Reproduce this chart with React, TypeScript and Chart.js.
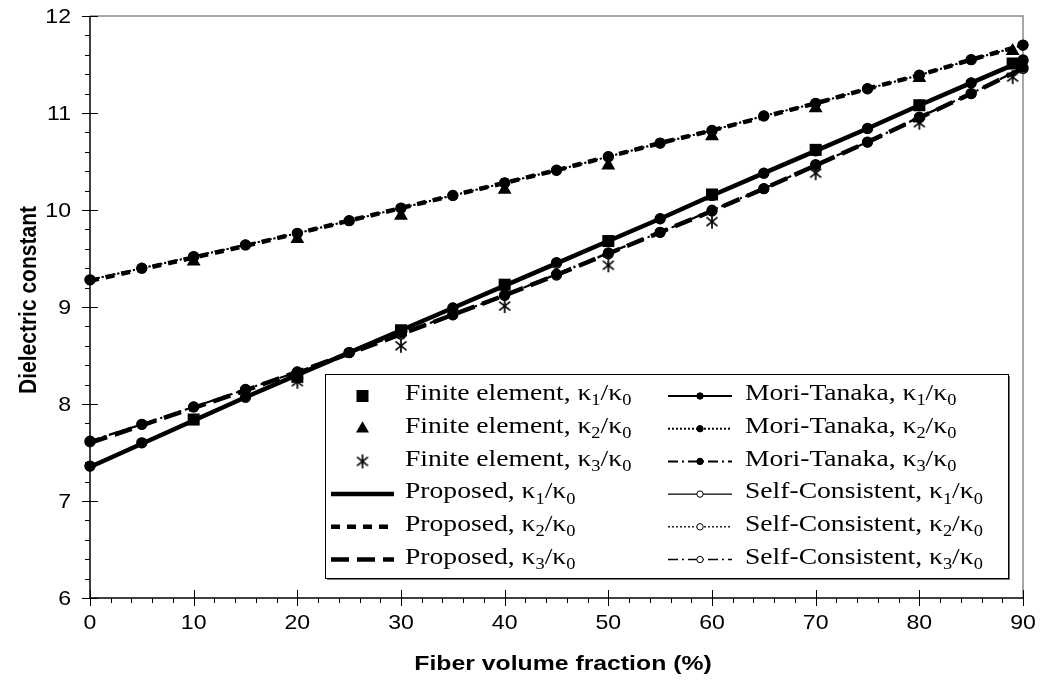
import React, { useEffect, useRef } from 'react';
import { Chart, registerables } from 'chart.js';
Chart.register(...registerables);

// ---------- data ----------
const fineX = [0, 5, 10, 15, 20, 25, 30, 35, 40, 45, 50, 55, 60, 65, 70, 75, 80, 85, 90];
const feX = [10, 20, 30, 40, 50, 60, 70, 80, 89];
const feK3X = [20, 30, 40, 50, 60, 70, 80, 89];

const feK1 = [7.84, 8.28, 8.76, 9.23, 9.68, 10.16, 10.62, 11.08, 11.51];
const feK2 = [9.47, 9.70, 9.94, 10.21, 10.46, 10.76, 11.05, 11.36, 11.64];
const feK3 = [8.23, 8.60, 9.01, 9.43, 9.88, 10.38, 10.90, 11.37];

const mtK1 = [7.36, 7.60, 7.84, 8.07, 8.30, 8.53, 8.76, 8.99, 9.22, 9.46, 9.68, 9.91, 10.15, 10.38, 10.61, 10.84, 11.08, 11.31, 11.55];
const mtK2 = [9.28, 9.40, 9.52, 9.64, 9.76, 9.89, 10.02, 10.15, 10.28, 10.41, 10.55, 10.69, 10.82, 10.97, 11.10, 11.25, 11.39, 11.55, 11.70];
const mtK3 = [7.62, 7.79, 7.97, 8.15, 8.33, 8.53, 8.73, 8.92, 9.12, 9.34, 9.56, 9.77, 10.00, 10.22, 10.47, 10.70, 10.96, 11.20, 11.47];

const scK1 = [7.36, 7.60, 7.84, 8.07, 8.30, 8.53, 8.76, 8.99, 9.22, 9.45, 9.68, 9.91, 10.15, 10.38, 10.61, 10.84, 11.08, 11.31, 11.54];
const scK2 = [9.28, 9.40, 9.52, 9.64, 9.76, 9.89, 10.02, 10.15, 10.28, 10.41, 10.55, 10.69, 10.82, 10.97, 11.10, 11.25, 11.39, 11.55, 11.70];
const scK3 = [7.61, 7.79, 7.97, 8.15, 8.33, 8.53, 8.72, 8.92, 9.12, 9.33, 9.55, 9.77, 9.99, 10.22, 10.46, 10.70, 10.95, 11.20, 11.46];

const prK1 = [7.35, 7.59, 7.83, 8.07, 8.30, 8.53, 8.76, 8.99, 9.22, 9.45, 9.68, 9.91, 10.15, 10.38, 10.61, 10.84, 11.08, 11.31, 11.54];
const prK2 = [9.27, 9.39, 9.51, 9.63, 9.76, 9.89, 10.02, 10.15, 10.28, 10.41, 10.55, 10.69, 10.82, 10.96, 11.10, 11.25, 11.39, 11.55, 11.70];
const prK3 = [7.60, 7.78, 7.96, 8.14, 8.33, 8.52, 8.72, 8.92, 9.12, 9.33, 9.55, 9.77, 9.99, 10.22, 10.46, 10.70, 10.95, 11.20, 11.46];

const xTickLabels = ['0', '10', '20', '30', '40', '50', '60', '70', '80', '90'];
const yTickLabels = ['6', '7', '8', '9', '10', '11', '12'];
const xTitle = 'Fiber volume fraction (%)';
const yTitle = 'Dielectric constant';

const legendCol1 = ['Finite element, κ_1/κ_0', 'Finite element, κ_2/κ_0', 'Finite element, κ_3/κ_0', 'Proposed, κ_1/κ_0', 'Proposed, κ_2/κ_0', 'Proposed, κ_3/κ_0'];
const legendCol2 = ['Mori-Tanaka, κ_1/κ_0', 'Mori-Tanaka, κ_2/κ_0', 'Mori-Tanaka, κ_3/κ_0', 'Self-Consistent, κ_1/κ_0', 'Self-Consistent, κ_2/κ_0', 'Self-Consistent, κ_3/κ_0'];

// ---------- helpers ----------
const pts = (xs: number[], ys: number[]) => xs.map((x, i) => ({ x, y: ys[i] }));
const SANS = '"Liberation Sans", Arial, sans-serif';
const SERIF = '"Liberation Serif", "Times New Roman", serif';

function makeAsterisk(size: number) {
  const c = document.createElement('canvas');
  c.width = size; c.height = size;
  const g = c.getContext('2d')!;
  g.strokeStyle = '#000';
  g.lineWidth = 1.7;
  const cx = size / 2, r = size / 2 - 1;
  [90, 38, 142].forEach((deg) => {
    const a = (deg * Math.PI) / 180;
    g.beginPath();
    g.moveTo(cx - r * Math.cos(a), cx - r * Math.sin(a));
    g.lineTo(cx + r * Math.cos(a), cx + r * Math.sin(a));
    g.stroke();
  });
  return c;
}

function stretchText(ctx: CanvasRenderingContext2D, text: string, x: number, y: number, font: string, sx: number, align: CanvasTextAlign) {
  ctx.save();
  ctx.font = font;
  ctx.textAlign = align;
  ctx.textBaseline = 'middle';
  ctx.translate(x, y);
  ctx.scale(sx, 1);
  ctx.fillText(text, 0, 0);
  ctx.restore();
}

function drawRichText(ctx: CanvasRenderingContext2D, text: string, x: number, y: number, size: number, sx: number) {
  ctx.save();
  ctx.translate(x, y);
  ctx.scale(sx, 1);
  ctx.textAlign = 'left';
  ctx.textBaseline = 'middle';
  const parts = text.split(/(_.)/);
  let cx = 0;
  parts.forEach((p) => {
    if (!p) return;
    if (p.startsWith('_')) {
      ctx.font = `${Math.round(size * 0.66)}px ${SERIF}`;
      ctx.fillText(p.slice(1), cx, size * 0.3);
      cx += ctx.measureText(p.slice(1)).width;
    } else {
      ctx.font = `${size}px ${SERIF}`;
      ctx.fillText(p, cx, 0);
      cx += ctx.measureText(p).width;
    }
  });
  ctx.restore();
}

export default function App() {
  const ref = useRef<HTMLCanvasElement>(null);

  useEffect(() => {
    const asterisk = makeAsterisk(16);
    const black = '#000000';

    const datasets: any[] = [
      { label: legendCol1[0], data: pts(feX, feK1), showLine: false, pointStyle: 'rect', pointRadius: 8.5, backgroundColor: black, borderColor: black, borderWidth: 0 },
      { label: legendCol1[1], data: pts(feX, feK2), showLine: false, pointStyle: 'triangle', pointRadius: 8, backgroundColor: black, borderColor: black, borderWidth: 0 },
      { label: legendCol1[2], data: pts(feK3X, feK3), showLine: false, pointStyle: asterisk, pointRadius: 8, backgroundColor: black, borderColor: black },
      { label: legendCol2[0], data: pts(fineX, mtK1), borderWidth: 2, borderDash: [], pointStyle: 'circle', pointRadius: 4.4, backgroundColor: black, borderColor: black },
      { label: legendCol2[1], data: pts(fineX, mtK2), borderWidth: 2, borderDash: [2, 2], pointStyle: 'circle', pointRadius: 4.4, backgroundColor: black, borderColor: black },
      { label: legendCol2[2], data: pts(fineX, mtK3), borderWidth: 2, borderDash: [10, 4, 2, 4], pointStyle: 'circle', pointRadius: 4.4, backgroundColor: black, borderColor: black },
      { label: legendCol2[3], data: pts(fineX, scK1), borderWidth: 1.3, borderDash: [], pointStyle: 'circle', pointRadius: 5, pointBorderWidth: 1.3, backgroundColor: '#ffffff', borderColor: black },
      { label: legendCol2[4], data: pts(fineX, scK2), borderWidth: 1.3, borderDash: [2, 2], pointStyle: 'circle', pointRadius: 5, pointBorderWidth: 1.3, backgroundColor: '#ffffff', borderColor: black },
      { label: legendCol2[5], data: pts(fineX, scK3), borderWidth: 1.3, borderDash: [10, 4, 2, 4], pointStyle: 'circle', pointRadius: 5, pointBorderWidth: 1.3, backgroundColor: '#ffffff', borderColor: black },
      { label: legendCol1[3], data: pts(fineX, prK1), borderWidth: 4.5, borderDash: [], pointRadius: 0, borderColor: black, backgroundColor: black },
      { label: legendCol1[4], data: pts(fineX, prK2), borderWidth: 4.5, borderDash: [9, 7], pointRadius: 0, borderColor: black, backgroundColor: black },
      { label: legendCol1[5], data: pts(fineX, prK3), borderWidth: 4.5, borderDash: [18, 8], pointRadius: 0, borderColor: black, backgroundColor: black },
    ];
    datasets.forEach((d) => { d.tension = 0; d.fill = false; d.clip = false; });

    const byLabel = (l: string) => datasets.find((d) => d.label === l);

    const frame = {
      id: 'frame',
      beforeDatasetsDraw(chart: any) {
        const { ctx, chartArea: ca, scales } = chart;
        const xs = scales.x, ys = scales.y;
        ctx.save();
        ctx.strokeStyle = '#8a8a8a';
        ctx.lineWidth = 1.5;
        ctx.beginPath();
        ctx.moveTo(ca.left, ca.top);
        ctx.lineTo(ca.right, ca.top);
        ctx.lineTo(ca.right, ca.bottom);
        ctx.stroke();
        ctx.strokeStyle = '#000';
        ctx.lineWidth = 1.5;
        ctx.beginPath();
        ctx.moveTo(ca.left, ca.top);
        ctx.lineTo(ca.left, ca.bottom);
        ctx.lineTo(ca.right, ca.bottom);
        ctx.stroke();
        ctx.lineWidth = 1;
        for (let v = ys.min; v <= ys.max + 1e-6; v += 0.2) {
          const py = Math.round(ys.getPixelForValue(v)) + 0.5;
          const major = Math.abs(v - Math.round(v)) < 1e-6;
          ctx.beginPath();
          ctx.moveTo(ca.left - (major ? 8 : 5), py);
          ctx.lineTo(ca.left + (major ? 8 : 0), py);
          ctx.stroke();
        }
        for (let v = xs.min; v <= xs.max + 1e-6; v += 2) {
          const px = Math.round(xs.getPixelForValue(v)) + 0.5;
          const major = Math.abs(v / 10 - Math.round(v / 10)) < 1e-6;
          ctx.beginPath();
          ctx.moveTo(px, ca.bottom - (major ? 8 : 0));
          ctx.lineTo(px, ca.bottom + (major ? 8 : 5));
          ctx.stroke();
        }
        ctx.fillStyle = '#000';
        const tickFont = `21px ${SANS}`;
        yTickLabels.forEach((t) => {
          stretchText(ctx, t, ca.left - 19, ys.getPixelForValue(Number(t)) + 1, tickFont, 1.1, 'right');
        });
        xTickLabels.forEach((t) => {
          stretchText(ctx, t, xs.getPixelForValue(Number(t)), ca.bottom + 25, tickFont, 1.1, 'center');
        });
        stretchText(ctx, xTitle, 563, 664, `bold 21px ${SANS}`, 1.18, 'center');
        ctx.save();
        ctx.translate(30, 300);
        ctx.rotate(-Math.PI / 2);
        ctx.font = `bold 21px ${SANS}`;
        ctx.textAlign = 'center';
        ctx.textBaseline = 'middle';
        ctx.scale(1, 1.1);
        ctx.fillText(yTitle, 0, 0);
        ctx.restore();
        ctx.restore();
      },
      afterDraw(chart: any) {
        const { ctx } = chart;
        const bx = 325, by = 374, bw = 683, bh = 204;
        ctx.save();
        ctx.fillStyle = '#7a7a7a';
        ctx.fillRect(bx + 2, by + 2, bw, bh);
        ctx.fillStyle = '#fff';
        ctx.fillRect(bx, by, bw, bh);
        ctx.strokeStyle = '#000';
        ctx.lineWidth = 1;
        ctx.strokeRect(bx + 0.5, by + 0.5, bw, bh);
        const rowH = 32.7;
        const y0 = by + 22;
        const fs = 24;
        const sx = 1.15;
        const drawSym = (d: any, x0: number, x1: number, cy: number) => {
          if (d.showLine !== false) {
            ctx.save();
            ctx.strokeStyle = '#000';
            ctx.lineWidth = d.borderWidth;
            ctx.setLineDash(d.borderDash || []);
            ctx.beginPath();
            ctx.moveTo(x0, cy);
            ctx.lineTo(x1, cy);
            ctx.stroke();
            ctx.restore();
          }
          const cx = (x0 + x1) / 2;
          const ps = d.pointStyle;
          if (!d.pointRadius) return;
          ctx.save();
          ctx.setLineDash([]);
          if (ps === 'rect') {
            const s = 12;
            ctx.fillStyle = '#000';
            ctx.fillRect(cx - s / 2, cy - s / 2, s, s);
          } else if (ps === 'triangle') {
            const r = 7.5;
            ctx.fillStyle = '#000';
            ctx.beginPath();
            ctx.moveTo(cx, cy - r);
            ctx.lineTo(cx + r * 0.87, cy + r * 0.5);
            ctx.lineTo(cx - r * 0.87, cy + r * 0.5);
            ctx.closePath();
            ctx.fill();
          } else if (ps === 'circle') {
            ctx.beginPath();
            ctx.arc(cx, cy, 3.2, 0, Math.PI * 2);
            ctx.fillStyle = d.backgroundColor;
            ctx.fill();
            ctx.lineWidth = 1;
            ctx.strokeStyle = '#000';
            ctx.stroke();
          } else if (ps && ps.getContext) {
            ctx.drawImage(ps, cx - ps.width / 2, cy - ps.height / 2);
          }
          ctx.restore();
        };
        ctx.fillStyle = '#000';
        legendCol1.forEach((l, i) => {
          const cy = y0 + i * rowH;
          drawSym(byLabel(l), 331, 394, cy);
          ctx.fillStyle = '#000';
          drawRichText(ctx, l, 405, cy - 2, fs, sx);
        });
        legendCol2.forEach((l, i) => {
          const cy = y0 + i * rowH;
          drawSym(byLabel(l), 668, 732, cy);
          ctx.fillStyle = '#000';
          drawRichText(ctx, l, 745, cy - 2, fs, sx);
        });
        ctx.restore();
      },
    };

    const chart = new Chart(ref.current!, {
      type: 'line',
      data: { datasets },
      options: {
        animation: false,
        responsive: false,
        events: [],
        layout: { padding: { top: 16, right: 18, left: 0, bottom: 0 } },
        plugins: { legend: { display: false }, tooltip: { enabled: false } },
        scales: {
          x: {
            type: 'linear',
            min: 0,
            max: 90,
            grid: { display: false, drawTicks: false },
            border: { display: false },
            ticks: { display: false },
            afterFit: (s: any) => { s.height = 87; },
          },
          y: {
            type: 'linear',
            min: 6,
            max: 12,
            grid: { display: false, drawTicks: false },
            border: { display: false },
            ticks: { display: false },
            afterFit: (s: any) => { s.width = 90; },
          },
        },
      } as any,
      plugins: [frame],
    });
    return () => chart.destroy();
  }, []);

  return (
    <div style={{ position: 'fixed', left: 0, top: 0, width: 1041, height: 685, background: '#fff' }}>
      <canvas ref={ref} width={1041} height={685} style={{ display: 'block' }} />
    </div>
  );
}
